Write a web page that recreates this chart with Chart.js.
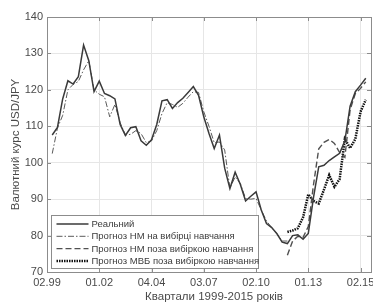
<!DOCTYPE html>
<html>
<head>
<meta charset="utf-8">
<script src="https://cdn.jsdelivr.net/npm/chart.js@4.4.1/dist/chart.umd.min.js"></script>
<style>
  html, body { margin: 0; padding: 0; background: #fff; }
  canvas { display: block; }
</style>
</head>
<body>
<canvas id="fx" width="373" height="303"></canvas>
<script>
// x axis: quarter index, ticks every 10 points
const tickPos = [0, 10, 20, 30, 40, 50, 60];
const tickLabels = ['02.99', '01.02', '04.04', '03.07', '02.10', '01.13', '02.15'];

const seriesNames = [
    'Реальний',
    'Прогноз НМ на вибірці навчання',
    'Прогноз НМ поза вибіркою навчання',
    'Прогноз МВБ поза вибіркою навчання'
];

// real rate, points 1..61
const realStart = 1;
const real = [
    107.6, 109.7, 117.5, 122.5, 121.6, 123.6, 132.3, 128.0, 119.5, 122.4,
    119.0, 118.4, 117.5, 110.5, 107.5, 109.6, 109.9, 106.0, 104.8, 106.3,
    110.5, 117.0, 117.3, 114.9, 116.5, 117.7, 119.3, 120.9, 118.5, 112.6,
    108.0, 103.9, 107.6, 98.5, 92.9, 97.4, 94.0, 89.5, 90.8, 92.0,
    87.0, 83.3, 82.2, 80.5, 78.2, 77.8, 80.0, 80.2, 79.0, 80.6,
    90.5, 98.9, 99.3, 100.6, 101.6, 102.6, 106.0, 115.5, 119.5, 121.3,
    123.2
];

// NN forecast on the training sample, points 1..46
const nnInStart = 1;
const nnIn = [
    102.5, 109.5, 113.0, 120.0, 121.5, 122.3, 125.5, 128.0, 120.0, 118.8,
    118.1, 112.6, 116.0, 111.0, 107.6, 107.8, 108.8, 108.0, 105.5, 106.0,
    108.8, 113.5, 116.5, 116.0, 115.2, 116.3, 118.0, 119.5, 119.3, 114.0,
    110.0, 105.5, 105.7, 103.5, 93.0, 96.1, 94.3, 90.2, 90.0, 90.2,
    87.0, 84.0, 82.2, 80.5, 78.5, 78.5
];

// NN forecast outside the training sample, points 46..61
const nnOutStart = 46;
const nnOut = [
    74.6, 78.5, 79.8, 79.5, 82.5, 94.0, 103.8, 105.6, 106.4, 105.3,
    102.8, 101.5, 114.5, 119.0, 120.4, 122.2
];

// MBB forecast outside the training sample, points 46..61
const mbbStart = 46;
const mbb = [
    81.0, 81.4, 82.0, 85.0, 91.3, 89.5, 88.8, 92.6, 96.6, 93.4,
    95.5, 106.5, 104.0, 106.5, 114.0, 117.3
];

const toPoints = (start, vals) => vals.map((v, i) => ({ x: start + i, y: v }));

const FONT = "'Liberation Sans', Arial, sans-serif";
const TXT = '#4a4a4a';
const FRAME = '#8c8c8c';

// box, inward ticks, legend and axis titles
const decor = {
    id: 'decor',
    afterDraw(chart) {
        const { ctx, chartArea: a, scales: { x, y } } = chart;
        ctx.save();

        ctx.strokeStyle = FRAME;
        ctx.lineWidth = 1;
        ctx.strokeRect(a.left + 0.5, a.top + 0.5, a.right - a.left, a.bottom - a.top);
        ctx.beginPath();
        x.ticks.forEach(t => {
            const px = Math.round(x.getPixelForValue(t.value)) + 0.5;
            ctx.moveTo(px, a.bottom); ctx.lineTo(px, a.bottom - 4);
            ctx.moveTo(px, a.top); ctx.lineTo(px, a.top + 4);
        });
        y.ticks.forEach(t => {
            const py = Math.round(y.getPixelForValue(t.value)) + 0.5;
            ctx.moveTo(a.left, py); ctx.lineTo(a.left + 4, py);
            ctx.moveTo(a.right, py); ctx.lineTo(a.right - 4, py);
        });
        ctx.stroke();

        // legend
        const lx = 51.5, ly = 215.5, lw = 207, lh = 53;
        ctx.fillStyle = '#fff';
        ctx.fillRect(lx, ly, lw, lh);
        ctx.strokeStyle = FRAME;
        ctx.lineWidth = 1;
        ctx.setLineDash([]);
        ctx.strokeRect(lx, ly, lw, lh);
        ctx.font = '9.5px ' + FONT;
        ctx.textBaseline = 'middle';
        ctx.textAlign = 'left';
        chart.data.datasets.forEach((ds, i) => {
            const ry = 224 + i * 12.3;
            ctx.beginPath();
            ctx.strokeStyle = ds.borderColor;
            ctx.lineWidth = ds.borderWidth;
            ctx.setLineDash(ds.borderDash || []);
            ctx.moveTo(56.5, ry);
            ctx.lineTo(88.5, ry);
            ctx.stroke();
            ctx.fillStyle = '#3c3c3c';
            ctx.fillText(ds.label, 91.5, ry + 0.5);
        });
        ctx.setLineDash([]);

        // axis titles
        ctx.fillStyle = TXT;
        ctx.font = '11.5px ' + FONT;
        ctx.textAlign = 'center';
        ctx.textBaseline = 'alphabetic';
        ctx.fillText('Квартали 1999-2015 років', 214, 300);
        ctx.translate(18.5, (a.top + a.bottom) / 2);
        ctx.rotate(-Math.PI / 2);
        ctx.fillText('Валютний курс USD/JPY', 0, 0);

        ctx.restore();
    }
};

new Chart(document.getElementById('fx'), {
    type: 'line',
    data: {
        datasets: [
            {
                label: seriesNames[0],
                data: toPoints(realStart, real),
                borderColor: '#3a3a3a',
                borderWidth: 1.5
            },
            {
                label: seriesNames[1],
                data: toPoints(nnInStart, nnIn),
                borderColor: '#5a5a5a',
                borderWidth: 1,
                borderDash: [6, 2, 1.5, 2]
            },
            {
                label: seriesNames[2],
                data: toPoints(nnOutStart, nnOut),
                borderColor: '#505050',
                borderWidth: 1.4,
                borderDash: [6, 3]
            },
            {
                label: seriesNames[3],
                data: toPoints(mbbStart, mbb),
                borderColor: '#111',
                borderWidth: 2.5,
                borderDash: [1.5, 1]
            }
        ]
    },
    options: {
        responsive: false,
        animation: false,
        devicePixelRatio: 1,
        layout: { padding: { left: 0, right: 2, top: 17, bottom: 0 } },
        elements: { point: { radius: 0 }, line: { tension: 0, fill: false } },
        plugins: { legend: { display: false }, tooltip: { enabled: false } },
        scales: {
            x: {
                type: 'linear',
                min: 0,
                max: 62,
                afterBuildTicks: axis => { axis.ticks = tickPos.map(v => ({ value: v })); },
                afterFit: s => { s.height = 31; s.paddingLeft = 0; s.paddingRight = 0; },
                grid: { color: '#e6e6e6', drawTicks: false },
                border: { display: false },
                ticks: {
                    autoSkip: false,
                    maxRotation: 0,
                    padding: 4,
                    color: TXT,
                    font: { family: FONT, size: 11 },
                    callback: v => tickLabels[tickPos.indexOf(v)]
                }
            },
            y: {
                min: 70,
                max: 140,
                afterFit: s => { s.width = 47; s.paddingTop = 0; s.paddingBottom = 0; },
                grid: { color: '#e6e6e6', drawTicks: false },
                border: { display: false },
                ticks: {
                    stepSize: 10,
                    padding: 4,
                    color: TXT,
                    font: { family: FONT, size: 11 }
                }
            }
        }
    },
    plugins: [decor]
});
</script>
</body>
</html>
